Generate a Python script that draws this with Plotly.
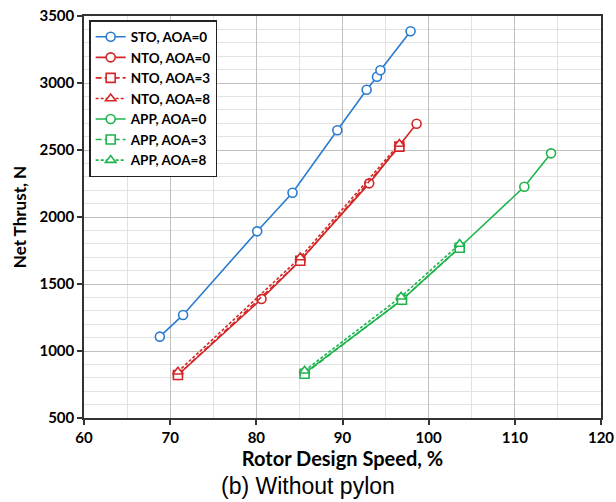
import plotly.graph_objects as go

# Data
sto0_x = [68.8, 71.5, 80.1, 84.2, 89.4, 92.8, 94.0, 94.4, 97.9]
sto0_y = [1107, 1269, 1893, 2181, 2647, 2950, 3047, 3095, 3386]

nto0_x = [70.9, 80.6, 85.1, 93.1, 98.6]
nto0_y = [821, 1388, 1676, 2251, 2696]
nto3_x = [70.9, 85.1, 96.6]
nto3_y = [821, 1674, 2525]
nto8_x = [70.9, 85.1, 96.6]
nto8_y = [845, 1698, 2545]

app0_x = [85.6, 96.9, 103.6, 111.1, 114.2]
app0_y = [835, 1381, 1774, 2226, 2475]
app3_x = [85.6, 96.9, 103.6]
app3_y = [830, 1383, 1771]
app8_x = [85.6, 96.8, 103.6]
app8_y = [853, 1405, 1798]

series_names = ["STO, AOA=0", "NTO, AOA=0", "NTO, AOA=3", "NTO, AOA=8",
                "APP, AOA=0", "APP, AOA=3", "APP, AOA=8"]

x_ticks = [60, 70, 80, 90, 100, 110, 120]
y_ticks = [500, 1000, 1500, 2000, 2500, 3000, 3500]

BLUE = "#2A7BCF"
RED = "#D42626"
GREEN = "#1FB34D"

specs = [
    (sto0_x, sto0_y, BLUE, "solid", "circle"),
    (nto0_x, nto0_y, RED, "solid", "circle"),
    (nto3_x, nto3_y, RED, "6px,3px", "square"),
    (nto8_x, nto8_y, RED, "3px,2px", "triangle-up"),
    (app0_x, app0_y, GREEN, "solid", "circle"),
    (app3_x, app3_y, GREEN, "6px,3px", "square"),
    (app8_x, app8_y, GREEN, "3px,2px", "triangle-up"),
]

FONT = "Lato, Open Sans, sans-serif"

fig = go.Figure()
for (xs, ys, col, dash, sym), name in zip(specs, series_names):
    fig.add_trace(go.Scatter(
        x=xs, y=ys, name=f"<b>{name}</b>", mode="lines+markers",
        line=dict(color=col, width=1.6, dash=dash),
        marker=dict(symbol=sym, size=9,
                    color="white", line=dict(color=col, width=1.6)),
    ))

fig.update_layout(
    width=616, height=502,
    margin=dict(l=84, r=15, t=16, b=84),
    paper_bgcolor="white", plot_bgcolor="white",
    font=dict(family=FONT, color="black"),
    showlegend=True,
    legend=dict(
        x=0.01, y=0.99, xanchor="left", yanchor="top",
        bgcolor="white", bordercolor="#222222", borderwidth=1.5,
        font=dict(family="Lato, Open Sans, sans-serif", size=13.5, color="black"),
        tracegroupgap=0, itemwidth=30,
    ),
    annotations=[dict(
        text="(b) Without pylon", xref="paper", yref="paper",
        x=(308 - 84) / (601 - 84), y=0, yshift=-68, xanchor="center", yanchor="middle",
        showarrow=False,
        font=dict(family="Liberation Sans, Arial, sans-serif", size=23, color="black"),
    )],
)

fig.update_xaxes(
    range=[60, 120], tickvals=x_ticks, ticktext=[f"<b>{v}</b>" for v in x_ticks],
    automargin=False,
    showline=True, linecolor="#333333", linewidth=1.5, mirror=True,
    ticks="outside", ticklen=5, tickcolor="#333333", tickwidth=1.5,
    showgrid=True, gridcolor="#BFBFBF", gridwidth=1,
    minor=dict(dtick=5, tick0=60, showgrid=True, gridcolor="#E2E2E2", gridwidth=1, ticks=""),
    tickfont=dict(family=FONT, size=15, color="black"),
    title=dict(text="<b>Rotor Design Speed, %</b>", standoff=4,
               font=dict(family=FONT, size=20, color="black")),
    zeroline=False,
)
fig.update_yaxes(
    range=[500, 3500], tickvals=y_ticks, ticktext=[f"<b>{v}</b>" for v in y_ticks],
    automargin=False,
    showline=True, linecolor="#333333", linewidth=1.5, mirror=True,
    ticks="outside", ticklen=5, tickcolor="#333333", tickwidth=1.5,
    showgrid=True, gridcolor="#BFBFBF", gridwidth=1,
    minor=dict(dtick=100, tick0=500, showgrid=True, gridcolor="#E2E2E2", gridwidth=1, ticks=""),
    tickfont=dict(family=FONT, size=15, color="black"),
    title=dict(text="<b>Net Thrust, N</b>", standoff=8,
               font=dict(family=FONT, size=17, color="black")),
    zeroline=False,
)

fig.write_html("out.html")
